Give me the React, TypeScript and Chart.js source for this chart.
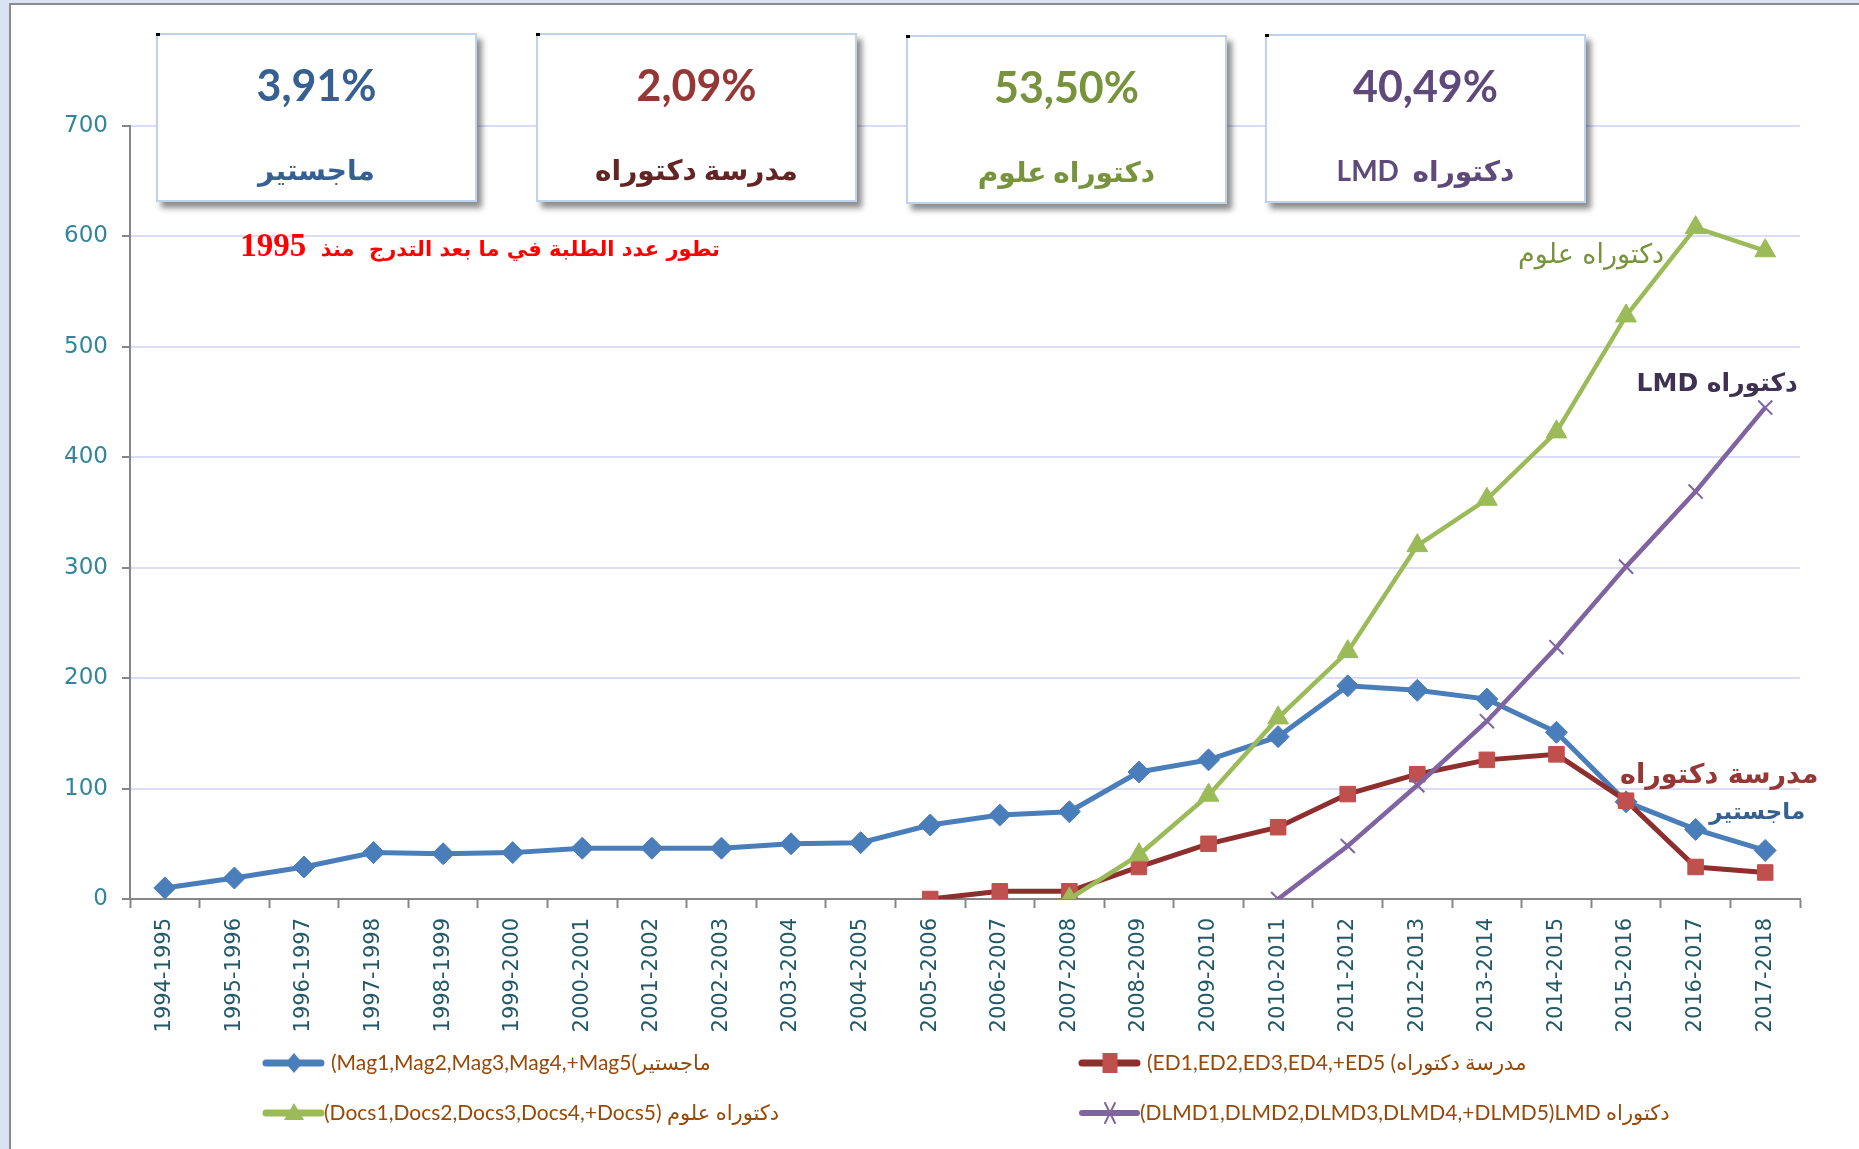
import React, { useEffect, useRef } from "react";
import { Chart, registerables } from "chart.js";
Chart.register(...registerables);

const years = [
  "1994-1995", "1995-1996", "1996-1997", "1997-1998", "1998-1999", "1999-2000",
  "2000-2001", "2001-2002", "2002-2003", "2003-2004", "2004-2005", "2005-2006",
  "2006-2007", "2007-2008", "2008-2009", "2009-2010", "2010-2011", "2011-2012",
  "2012-2013", "2013-2014", "2014-2015", "2015-2016", "2016-2017", "2017-2018",
];
const magister = [10, 19, 29, 42, 41, 42, 46, 46, 46, 50, 51, 67, 76, 79, 115, 126, 147, 193, 189, 181, 151, 88, 63, 44];
const ecoleDoctorale = [null, null, null, null, null, null, null, null, null, null, null, 0, 7, 7, 29, 50, 65, 95, 113, 126, 131, 89, 29, 24];
const doctoratSciences = [null, null, null, null, null, null, null, null, null, null, null, null, null, 0, 40, 94, 164, 224, 320, 362, 423, 528, 608, 587];
const doctoratLMD = [null, null, null, null, null, null, null, null, null, null, null, null, null, null, null, null, 0, 48, 103, 161, 228, 301, 369, 445];
const yTicks = [0, 100, 200, 300, 400, 500, 600, 700];

const legendLabels = [
  "(Mag1,Mag2,Mag3,Mag4,+Mag5(ماجستير",
  "(ED1,ED2,ED3,ED4,+ED5 (مدرسة دكتوراه",
  "(Docs1,Docs2,Docs3,Docs4,+Docs5) دكتوراه علوم",
  "(DLMD1,DLMD2,DLMD3,DLMD4,+DLMD5)LMD دكتوراه",
];
const boxPercents = ["3,91%", "2,09%", "53,50%", "40,49%"];
const boxLabels = ["ماجستير", "مدرسة دكتوراه", "دكتوراه علوم", "دكتوراه  LMD"];
const titleArabic = "تطور عدد الطلبة في ما بعد التدرج  منذ";
const titleYear = "1995";

const BLUE = "#4a7ebb";
const RED_LINE = "#8e2f2d";
const RED_PT = "#c0504d";
const GREEN = "#9bbb59";
const PURPLE = "#8064a2";

const boxes = [
  { left: 156, top: 33, pc: "#376092", lc: "#376092" },
  { left: 536, top: 33, pc: "#953735", lc: "#632523" },
  { left: 906, top: 35, pc: "#77933c", lc: "#77933c" },
  { left: 1265, top: 34, pc: "#5f497a", lc: "#5f497a" },
];

const annotations = [
  { text: "دكتوراه علوم", idx: 21, value: 582, dx: -35, color: "#77933c", font: "27px 'DejaVu Sans'" },
  { text: "LMD دكتوراه", idx: 23, value: 466, dx: -48, color: "#3f3151", font: "bold 25px 'DejaVu Sans'" },
  { text: "مدرسة دكتوراه", idx: 23, value: 111, dx: -46, color: "#953735", font: "bold 27px 'DejaVu Sans'" },
  { text: "ماجستير", idx: 23, value: 78, dx: -8, color: "#376092", font: "bold 23px 'DejaVu Sans'" },
];

function drawMarker(ctx: CanvasRenderingContext2D, style: string, x: number, y: number, r: number, fill: string, stroke: string) {
  ctx.save();
  ctx.fillStyle = fill;
  ctx.strokeStyle = stroke;
  ctx.beginPath();
  if (style === "diamond") {
    ctx.moveTo(x, y - r);
    ctx.lineTo(x + r * 0.85, y);
    ctx.lineTo(x, y + r);
    ctx.lineTo(x - r * 0.85, y);
    ctx.closePath();
    ctx.fill();
  } else if (style === "square") {
    ctx.rect(x - r * 0.75, y - r, r * 1.5, r * 2);
    ctx.fill();
  } else if (style === "triangle") {
    ctx.moveTo(x, y - r);
    ctx.lineTo(x + r, y + r * 0.7);
    ctx.lineTo(x - r, y + r * 0.7);
    ctx.closePath();
    ctx.fill();
  } else if (style === "cross") {
    ctx.lineWidth = 2;
    ctx.moveTo(x - r * 0.5, y - r);
    ctx.lineTo(x + r * 0.5, y + r);
    ctx.moveTo(x + r * 0.5, y - r);
    ctx.lineTo(x - r * 0.5, y + r);
    ctx.stroke();
  }
  ctx.restore();
}

const overlayPlugin = {
  id: "overlay",
  afterDatasetsDraw(chart: any) {
    const ctx: CanvasRenderingContext2D = chart.ctx;
    const xs = chart.scales.x;
    const ys = chart.scales.y;
    ctx.save();
    ctx.textAlign = "center";
    ctx.textBaseline = "middle";
    for (const a of annotations) {
      ctx.font = a.font;
      ctx.fillStyle = a.color;
      ctx.fillText(a.text, xs.getPixelForValue(a.idx) + a.dx, ys.getPixelForValue(a.value));
    }
    ctx.restore();

    // legend
    const items = [
      { col: 0, row: 0, color: BLUE, ptColor: BLUE, style: "diamond", lw: 7 },
      { col: 1, row: 0, color: RED_LINE, ptColor: RED_PT, style: "square", lw: 7 },
      { col: 0, row: 1, color: GREEN, ptColor: GREEN, style: "triangle", lw: 7 },
      { col: 1, row: 1, color: PURPLE, ptColor: PURPLE, style: "cross", lw: 6 },
    ];
    const colX = [266, 1082];
    const rowY = [1063, 1113];
    ctx.save();
    items.forEach((it, i) => {
      const x0 = colX[it.col];
      const y0 = rowY[it.row];
      ctx.strokeStyle = it.color;
      ctx.lineWidth = it.lw;
      ctx.lineCap = "round";
      ctx.beginPath();
      ctx.moveTo(x0, y0);
      ctx.lineTo(x0 + 55, y0);
      ctx.stroke();
      drawMarker(ctx, it.style, x0 + 28, y0, 10, it.ptColor, it.ptColor);
      ctx.font = "21px Lato, 'DejaVu Sans'";
      ctx.fillStyle = "#984807";
      ctx.textAlign = "left";
      ctx.textBaseline = "middle";
      ctx.fillText(legendLabels[i], x0 + (it.row === 0 ? 65 : 58), y0);
    });
    ctx.restore();
  },
};

export default function App() {
  const ref = useRef<HTMLCanvasElement>(null);
  useEffect(() => {
    document.body.style.margin = "0";
    const chart = new Chart(ref.current!, {
      type: "line",
      data: {
        labels: years,
        datasets: [
          {
            label: legendLabels[0], data: magister, borderColor: BLUE, backgroundColor: BLUE,
            borderWidth: 5, pointStyle: "rectRot", pointRadius: 11, pointBackgroundColor: BLUE,
            pointBorderColor: BLUE, pointBorderWidth: 1, order: 4, tension: 0,
          },
          {
            label: legendLabels[1], data: ecoleDoctorale, borderColor: RED_LINE, backgroundColor: RED_PT,
            borderWidth: 5, pointStyle: "rect", pointRadius: 11, pointBackgroundColor: RED_PT,
            pointBorderColor: RED_PT, pointBorderWidth: 1, order: 3, tension: 0,
          },
          {
            label: legendLabels[2], data: doctoratSciences, borderColor: GREEN, backgroundColor: GREEN,
            borderWidth: 4.5, pointStyle: "triangle", pointRadius: 12, pointBackgroundColor: GREEN,
            pointBorderColor: GREEN, pointBorderWidth: 1, order: 1, tension: 0,
          },
          {
            label: legendLabels[3], data: doctoratLMD, borderColor: PURPLE, backgroundColor: PURPLE,
            borderWidth: 4.5, pointStyle: "crossRot", pointRadius: 10, pointBackgroundColor: PURPLE,
            pointBorderColor: PURPLE, pointBorderWidth: 2, order: 2, tension: 0,
          },
        ],
      },
      options: {
        responsive: false,
        animation: false,
        spanGaps: false,
        layout: { padding: { left: 0, right: 59, top: 126, bottom: 0 } },
        plugins: { legend: { display: false }, tooltip: { enabled: false } },
        scales: {
          x: {
            type: "category",
            offset: true,
            grid: { drawOnChartArea: false, drawTicks: true, tickLength: 9, tickColor: "#868686", tickWidth: 2, offset: true },
            border: { color: "#868686", width: 2 },
            ticks: {
              autoSkip: false, minRotation: 90, maxRotation: 90, padding: 10,
              color: "#215968", font: { family: "'DejaVu Sans'", size: 21 },
            },
            afterFit: (s: any) => { s.height = 250; },
          },
          y: {
            min: 0,
            max: 700,
            afterBuildTicks: (s: any) => { s.ticks = yTicks.map((v) => ({ value: v })); },
            ticks: { color: "#31859c", font: { family: "'DejaVu Sans'", size: 23 }, padding: 14 },
            grid: { color: "#dcdcf6", lineWidth: 2, tickColor: "#868686", tickLength: 8, tickWidth: 2 },
            border: { color: "#868686", width: 2 },
            afterFit: (s: any) => { s.width = 130; },
          },
        },
      },
      plugins: [overlayPlugin],
    } as any);
    return () => chart.destroy();
  }, []);

  return (
    <div style={{ position: "relative", width: 1859, height: 1149, background: "#d8e4f1", overflow: "hidden" }}>
      <div style={{ position: "absolute", left: 9, top: 3, right: 0, bottom: 0, background: "#ffffff", borderLeft: "2px solid #8c8c8c", borderTop: "2px solid #8c8c8c" }} />
      <canvas ref={ref} width={1859} height={1149} style={{ position: "absolute", left: 0, top: 0, display: "block" }} />
      {boxes.map((b, i) => (
        <div key={i} style={{
          position: "absolute", left: b.left, top: b.top, width: 321, height: 169, boxSizing: "border-box",
          background: "#ffffff", border: "2px solid #c0d3ec", boxShadow: "5px 6px 6px rgba(0,0,0,0.45)",
        }}>
          <div style={{ position: "absolute", left: -2, top: -2, width: 4, height: 3, background: "#000" }} />
          <div style={{
            position: "absolute", left: 0, right: 0, top: 28, textAlign: "center", color: b.pc,
            font: "bold 43px Lato, 'DejaVu Sans'", lineHeight: "44px",
          }}>{boxPercents[i]}</div>
          <div dir="rtl" style={{
            position: "absolute", left: 0, right: 0, top: 114, textAlign: "center", color: b.lc,
            font: "bold 28px Lato, 'DejaVu Sans'", lineHeight: "40px", whiteSpace: "pre",
          }}>{boxLabels[i]}</div>
        </div>
      ))}
      <div dir="rtl" style={{
        position: "absolute", left: 150, width: 570, top: 227, textAlign: "right", color: "#ff0000",
        font: "bold 21px 'DejaVu Sans'", lineHeight: "34px", whiteSpace: "pre",
      }}>
        {titleArabic + "  "}
        <span style={{ font: "bold 33px 'Liberation Serif'", letterSpacing: "6px" }}>{titleYear}</span>
      </div>
    </div>
  );
}
